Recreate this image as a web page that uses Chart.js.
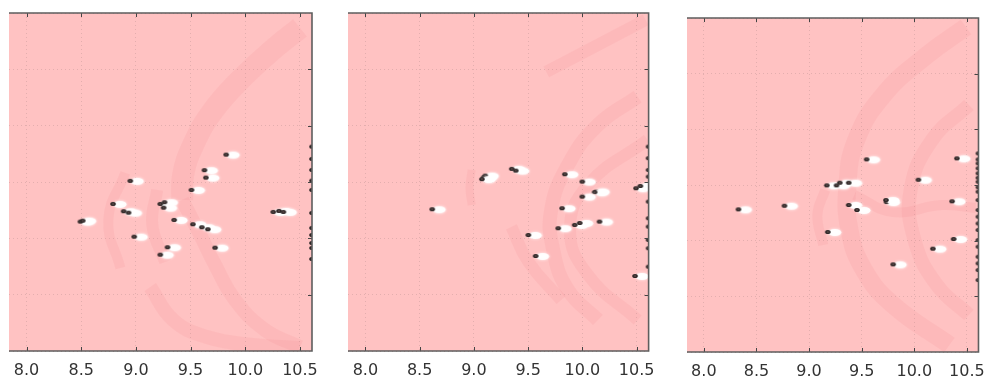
<!DOCTYPE html>
<html>
<head>
<meta charset="utf-8">
<script src="https://cdn.jsdelivr.net/npm/chart.js@4.4.1/dist/chart.umd.min.js"></script>
<style>
  body { margin: 0; background: #fff; }
  #wrap { position: relative; width: 995px; height: 385px; }
  canvas { position: absolute; top: 0; }
</style>
</head>
<body>
<div id="wrap">
  <canvas id="c1" width="330" height="385" style="left:0px"></canvas>
  <canvas id="c2" width="335" height="385" style="left:330px"></canvas>
  <canvas id="c3" width="330" height="385" style="left:665px"></canvas>
</div>
<script>
// axis ticks
const xTicks = [8.0, 8.5, 9.0, 9.5, 10.0, 10.5];
const yTicks = [0, 1, 2, 3, 4, 5, 6];
const xMin = 7.84, xMax = 10.61;

// panel 1 samples
const pts1 = [
  [9.825, 3.487], [9.627, 3.21], [9.64, 3.078], [8.949, 3.02], [9.508, 2.86],
  [8.791, 2.611], [9.223, 2.611], [9.262, 2.641], [9.253, 2.545],
  [8.888, 2.481], [8.933, 2.456], [8.493, 2.297], [8.514, 2.314],
  [9.35, 2.327], [9.521, 2.25], [9.603, 2.197], [9.658, 2.162],
  [8.985, 2.03], [9.289, 1.842], [9.223, 1.71], [9.724, 1.835],
  [10.256, 2.469], [10.308, 2.487], [10.348, 2.469]
];
const edge1 = [3.629, 3.41, 3.215, 3.025, 2.86, 2.451, 2.185, 2.06, 1.918, 1.83, 1.634];

// panel 2 samples
const pts2 = [
  [9.09, 3.085], [9.105, 3.114], [9.074, 3.05], [9.349, 3.233], [9.386, 3.203],
  [8.616, 2.517], [9.838, 3.138], [9.999, 3.007], [10.127, 2.83], [10.112, 2.82],
  [9.999, 2.741], [9.813, 2.535], [9.777, 2.179], [9.929, 2.238], [9.975, 2.273],
  [10.158, 2.297], [9.502, 2.06], [9.569, 1.687], [10.494, 2.89], [10.534, 2.93],
  [10.485, 1.332]
];
const edge2 = [3.629, 3.423, 3.215, 3.096, 2.918, 2.652, 2.357, 2.208, 1.972, 1.824, 1.497];

// panel 3 samples
const pts3 = [
  [9.547, 3.461], [10.405, 3.479], [10.039, 3.095], [9.169, 2.994], [9.261, 2.994],
  [9.292, 3.041], [9.377, 3.041], [8.329, 2.563], [8.766, 2.628], [9.377, 2.641],
  [9.455, 2.551], [9.737, 2.694], [9.731, 2.73], [10.359, 2.707], [9.178, 2.156],
  [10.374, 2.03], [10.177, 1.856], [9.799, 1.575]
];
const edge3 = [3.569, 3.46, 3.389, 3.3, 3.21, 3.13, 3.059, 2.96, 2.88, 2.73, 2.551,
  2.431, 2.31, 2.192, 2.012, 1.892, 1.712, 1.593, 1.473, 1.293];

// shaded regions, as centre lines [x, y] with a stroke width
const bands1 = [
  { w: 22, pts: [[10.5, 5.737], [10.272, 5.382], [9.953, 4.813], [9.697, 4.245], [9.524, 3.659], [9.432, 3.126], [9.423, 2.682]] },
  { w: 14, pts: [[9.423, 2.682], [9.588, 2.06], [9.724, 1.528], [9.907, 0.906], [10.181, 0.373], [10.5, 0.071]] },
  { w: 14, pts: [[9.131, 1.137], [9.341, 0.551], [9.651, 0.249], [10.071, 0.107], [10.5, 0.053]] },
  { w: 10, pts: [[8.903, 3.162], [8.748, 2.327], [8.858, 1.474]] },
  { w: 12, pts: [[9.195, 2.86], [9.15, 2.238], [9.268, 1.581]] }
];
const bands2 = [
  { w: 12, pts: [[10.582, 5.879], [10.143, 5.435], [9.667, 4.956]] },
  { w: 14, pts: [[10.509, 4.512], [10.143, 4.014], [9.868, 3.304], [9.712, 2.504], [9.731, 1.794], [9.868, 1.083], [10.143, 0.551]] },
  { w: 12, pts: [[10.6, 3.748], [10.051, 2.948], [9.886, 2.149], [10.051, 1.35], [10.509, 0.551]] },
  { w: 12, pts: [[9.346, 2.202], [9.502, 1.581], [9.804, 0.906]] },
  { w: 8, pts: [[8.98, 3.215], [8.96, 2.9], [8.98, 2.593]] }
];
const bands3 = [
  { w: 18, pts: [[10.491, 5.838], [10.122, 5.335], [9.707, 4.617], [9.448, 3.808], [9.365, 3.0], [9.384, 2.192], [9.522, 1.473], [9.799, 0.844], [10.334, 0.126]] },
  { w: 14, pts: [[10.519, 4.437], [10.168, 3.808], [9.965, 2.91], [10.002, 2.012], [10.214, 1.204], [10.519, 0.665]] },
  { w: 10, pts: [[9.43, 2.82], [9.799, 2.515], [10.26, 2.641], [10.583, 2.587]] },
  { w: 10, pts: [[9.153, 2.91], [9.079, 2.461], [9.135, 1.922]] }
];

// marker: dark dot with a white smear to its right
function makeMarker() {
  const c = document.createElement('canvas');
  c.width = 34; c.height = 14;
  const g = c.getContext('2d');
  g.shadowColor = 'rgba(255,255,255,0.9)';
  g.shadowBlur = 3;
  g.fillStyle = 'rgba(255,255,255,0.95)';
  g.beginPath();
  g.ellipse(24, 7.5, 6.5, 3.4, 0, 0, Math.PI * 2);
  g.fill();
  g.shadowBlur = 0;
  g.fillStyle = '#2f2727';
  g.beginPath();
  g.ellipse(17, 7, 2.8, 2.1, 0, 0, Math.PI * 2);
  g.fill();
  g.fillStyle = '#6d5858';
  g.fillRect(16.2, 6.4, 1.6, 1.2);
  return c;
}
const marker = makeMarker();

const frame = {
  id: 'frame',
  beforeDraw(chart) {
    const a = chart.chartArea, ctx = chart.ctx;
    ctx.save();
    ctx.fillStyle = '#ffc2c2';
    ctx.fillRect(a.left, a.top, a.right - a.left, a.bottom - a.top);
    ctx.restore();
  },
  afterDraw(chart) {
    const a = chart.chartArea, ctx = chart.ctx;
    const xs = chart.scales.x, ys = chart.scales.y;
    ctx.save();
    ctx.strokeStyle = '#444';
    ctx.lineWidth = 1;
    ctx.beginPath();
    xTicks.forEach(v => {
      const px = Math.round(xs.getPixelForValue(v)) + 0.5;
      ctx.moveTo(px, a.top); ctx.lineTo(px, a.top + 4);
      ctx.moveTo(px, a.bottom); ctx.lineTo(px, a.bottom - 4);
    });
    yTicks.slice(1, -1).forEach(v => {
      const py = Math.round(ys.getPixelForValue(v)) + 0.5;
      ctx.moveTo(a.right, py); ctx.lineTo(a.right - 4, py);
    });
    ctx.stroke();
    ctx.strokeStyle = '#5e5e5e';
    ctx.lineWidth = 1.6;
    ctx.beginPath();
    ctx.moveTo(a.left, a.top);
    ctx.lineTo(a.right, a.top);
    ctx.lineTo(a.right, a.bottom);
    ctx.lineTo(a.left, a.bottom);
    ctx.stroke();
    ctx.restore();
  }
};

const gridColor = 'rgba(215,165,165,0.7)';

function makeChart(id, pts, edge, bands, pad, axisH) {
  const datasets = [];
  datasets.push({
    data: pts.map(p => ({ x: p[0], y: p[1] })),
    pointStyle: marker,
    pointRadius: 5,
    clip: 0,
    order: 1
  });
  datasets.push({
    data: edge.map(v => ({ x: xMax, y: v })),
    pointStyle: marker,
    pointRadius: 5,
    clip: 0,
    order: 1
  });
  bands.forEach(b => {
    datasets.push({
      data: b.pts.map(p => ({ x: p[0], y: p[1] })),
      showLine: true,
      pointRadius: 0,
      borderWidth: b.w,
      borderColor: 'rgba(236,118,124,0.11)',
      tension: 0.45,
      borderCapStyle: 'butt',
      clip: 0,
      order: 2
    });
  });

  return new Chart(document.getElementById(id), {
    type: 'scatter',
    data: { datasets },
    plugins: [frame],
    options: {
      responsive: false,
      animation: false,
      devicePixelRatio: 1,
      layout: { padding: pad },
      plugins: { legend: { display: false }, tooltip: { enabled: false } },
      scales: {
        x: {
          min: xMin, max: xMax,
          afterBuildTicks: s => { s.ticks = xTicks.map(v => ({ value: v })); },
          afterFit: s => { s.height = axisH; },
          border: { display: false, dash: [1, 3] },
          grid: { color: gridColor, drawTicks: false },
          ticks: {
            padding: 10,
            color: '#333',
            font: { family: 'DejaVu Sans', size: 16 },
            callback: v => Number(v).toFixed(1)
          }
        },
        y: {
          min: 0, max: 6,
          afterBuildTicks: s => { s.ticks = yTicks.map(v => ({ value: v })); },
          afterFit: s => { s.width = 0; },
          border: { display: false, dash: [1, 3] },
          grid: { color: gridColor, drawTicks: false },
          ticks: { display: false }
        }
      }
    }
  });
}

const c1 = makeChart('c1', pts1, edge1, bands1, { left: 9, right: 18, top: 13, bottom: 0 }, 34);
const c2 = makeChart('c2', pts2, edge2, bands2, { left: 18, right: 13, top: 13, bottom: 0 }, 34);
const c3 = makeChart('c3', pts3, edge3, bands3, { left: 22, right: 7, top: 18, bottom: 0 }, 33);
</script>
</body>
</html>
